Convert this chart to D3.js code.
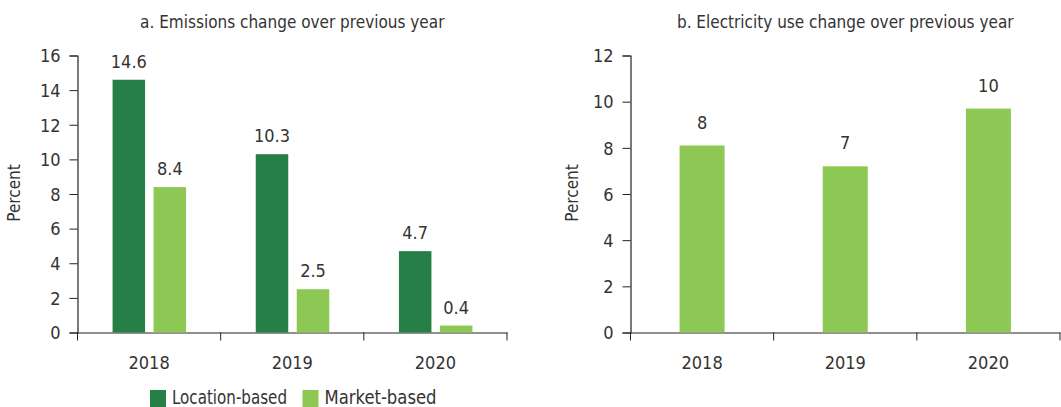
<!DOCTYPE html>
<html>
<head>
<meta charset="utf-8">
<script src="https://cdn.jsdelivr.net/npm/d3@7"></script>
<style>
  body { margin: 0; background: #fff; }
  svg text { font-family: "Liberation Sans Narrow", "DejaVu Sans Condensed", sans-serif; fill: #333; }
</style>
</head>
<body>
<svg id="chart" width="1061" height="407"></svg>
<script>
const years = ["2018", "2019", "2020"];
const series = ["Location-based", "Market-based"];
const emissionsLocation = [14.6, 10.3, 4.7];
const emissionsMarket = [8.4, 2.5, 0.4];
const electricityUse = [8.1, 7.2, 9.7];
const electricityLabels = ["8", "7", "10"];
const emissionsTicks = [0, 2, 4, 6, 8, 10, 12, 14, 16];
const electricityTicks = [0, 2, 4, 6, 8, 10, 12];

const DARK = "#277f48";
const LIGHT = "#8dc855";
const svg = d3.select("#chart");

// dibuja un panel con ejes y barras
function panel(cfg) {
  const g = svg.append("g");
  const x = d3.scaleBand().domain(years).range([cfg.x0, cfg.x1]);
  const y = d3.scaleLinear().domain([0, cfg.max]).range([332.5, 55.5]);

  g.append("text").attr("x", (cfg.x0 + cfg.x1) / 2).attr("y", 28)
    .attr("text-anchor", "middle").style("font-size", "17px").text(cfg.title);

  g.append("text").attr("transform", `translate(${cfg.labelX},193) rotate(-90)`)
    .attr("text-anchor", "middle").style("font-size", "17px").text("Percent");

  const yAxis = g.append("g").attr("transform", `translate(${cfg.x0},0)`)
    .call(d3.axisLeft(y).tickValues(cfg.ticks).tickSize(8).tickPadding(9));
  yAxis.selectAll("text").style("font-size", "18px").attr("dy", "0.35em");

  const xAxis = g.append("g").attr("transform", "translate(0,332.5)")
    .call(d3.axisBottom(x).tickSize(0).tickPadding(24));
  xAxis.selectAll("text").style("font-size", "18px");
  xAxis.selectAll(".tick line").remove();
  // separadores entre categorías
  xAxis.selectAll(".sep").data([cfg.x0, ...years.map(d => x(d) + x.bandwidth())])
    .join("line").attr("class", "sep")
    .attr("x1", d => d).attr("x2", d => d).attr("y1", 0).attr("y2", 8)
    .attr("stroke", "#222");
  g.selectAll(".domain").attr("stroke", "#222").attr("stroke-width", 1.2);
  g.selectAll(".tick line").attr("stroke", "#222");

  cfg.bars.forEach(b => {
    g.selectAll(null).data(years).join("rect")
      .attr("x", d => x(d) + x.bandwidth() / 2 + b.offset)
      .attr("width", b.width)
      .attr("y", (d, i) => y(b.values[i]))
      .attr("height", (d, i) => y(0) - y(b.values[i]))
      .attr("fill", b.color);
    g.selectAll(null).data(years).join("text")
      .attr("x", d => x(d) + x.bandwidth() / 2 + b.offset + b.width / 2)
      .attr("y", (d, i) => y(b.values[i]) - cfg.labelGap)
      .attr("text-anchor", "middle").style("font-size", "18px")
      .text((d, i) => b.labels[i]);
  });
}

panel({
  x0: 77.5, x1: 507, max: 16, ticks: emissionsTicks, labelX: 20, labelGap: 12,
  title: "a. Emissions change over previous year",
  bars: [
    { values: emissionsLocation, labels: emissionsLocation.map(v => v.toFixed(1)), color: DARK, offset: -36.5, width: 32.5 },
    { values: emissionsMarket, labels: emissionsMarket.map(v => v.toFixed(1)), color: LIGHT, offset: 4.5, width: 32.5 }
  ]
});

panel({
  x0: 630.5, x1: 1060, max: 12, ticks: electricityTicks, labelX: 578, labelGap: 17,
  title: "b. Electricity use change over previous year",
  bars: [
    { values: electricityUse, labels: electricityLabels, color: LIGHT, offset: -22.5, width: 45 }
  ]
});

// leyenda
const legend = svg.append("g");
const legendX = [150, 302.5];
series.forEach((s, i) => {
  legend.append("rect").attr("x", legendX[i]).attr("y", 390).attr("width", 16).attr("height", 17)
    .attr("fill", i === 0 ? DARK : LIGHT);
  legend.append("text").attr("x", legendX[i] + 22).attr("y", 404)
    .attr("textLength", i === 0 ? 115 : 112).attr("lengthAdjust", "spacingAndGlyphs")
    .style("font-size", "19px").text(s);
});
</script>
</body>
</html>
